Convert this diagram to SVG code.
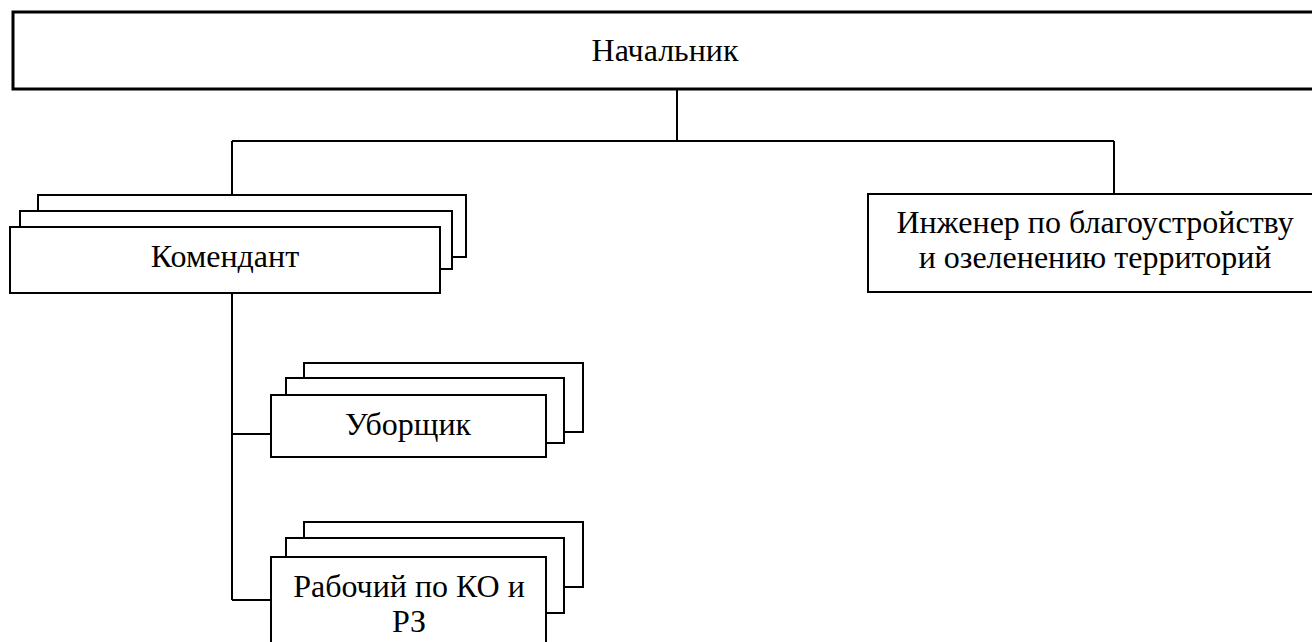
<svg xmlns="http://www.w3.org/2000/svg" width="1312" height="642" viewBox="0 0 1312 642">
<style>
.box{fill:#fff;stroke:#000;stroke-width:2}
.thick{fill:#fff;stroke:#000;stroke-width:3}
.ln{fill:none;stroke:#000;stroke-width:2}
text{font-family:"Liberation Serif","Times New Roman",serif;font-size:32px;fill:#000;text-anchor:middle}
</style>
<rect width="1312" height="642" fill="#fff"/>
<g id="connectors">
<path class="ln" d="M677 90V141M232 141H1114M232 141V195M1114 141V194"/>
<path class="ln" d="M232 293V600M232 434H271M232 600H271"/>
</g>
<g id="nachalnik">
<rect class="thick" x="13" y="12" width="1310" height="77"/>
<text x="665" y="61">Начальник</text>
</g>
<g id="komendant">
<rect class="box" x="38" y="195" width="428" height="62"/>
<rect class="box" x="20" y="211" width="432" height="58"/>
<rect class="box" x="10" y="227" width="430" height="66"/>
<text x="225" y="267">Комендант</text>
</g>
<g id="inzhener">
<rect class="box" x="868" y="194" width="450" height="98"/>
<text x="1095" y="233">Инженер по благоустройству</text>
<text x="1095" y="268">и озеленению территорий</text>
</g>
<g id="uborshchik">
<rect class="box" x="304" y="363" width="279" height="69"/>
<rect class="box" x="286" y="378" width="278" height="65"/>
<rect class="box" x="271" y="395" width="275" height="62"/>
<text x="408" y="435">Уборщик</text>
</g>
<g id="rabochiy">
<rect class="box" x="304" y="522" width="279" height="65"/>
<rect class="box" x="286" y="538" width="278" height="75"/>
<rect class="box" x="271" y="557" width="275" height="100"/>
<text x="409" y="597">Рабочий по КО и</text>
<text x="409" y="632">РЗ</text>
</g>
</svg>
